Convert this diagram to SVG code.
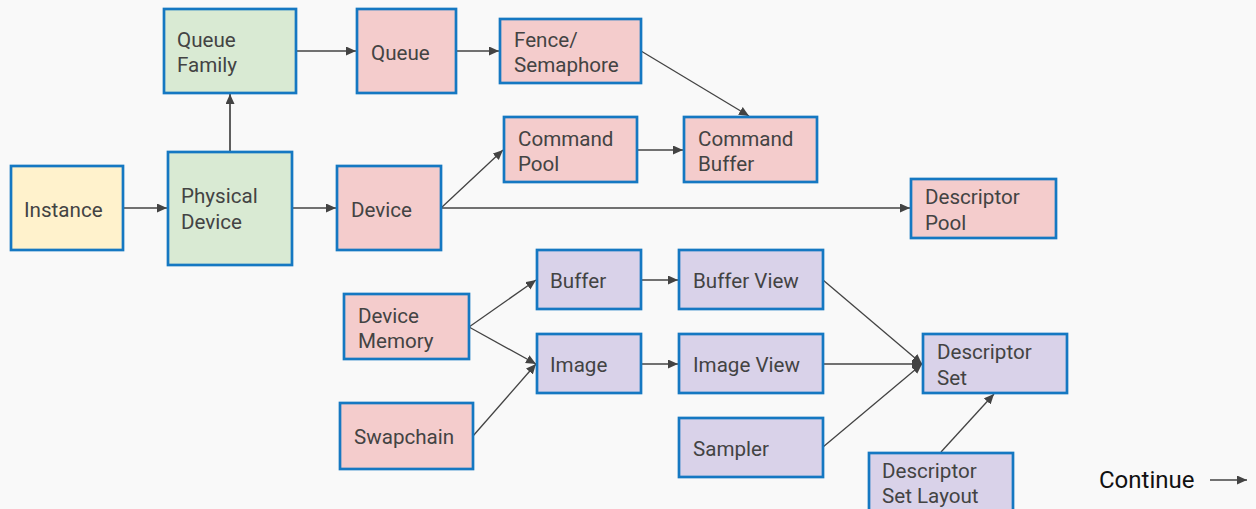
<svg xmlns="http://www.w3.org/2000/svg" width="1256" height="509" viewBox="0 0 1256 509">
  <style>
    .box { stroke: #1578c2; stroke-width: 2.7; }
    .y { fill: #fff2cc; }
    .g { fill: #d9ead3; }
    .r { fill: #f4cccc; }
    .p { fill: #d9d2e9; }
    .lbl { font-family: Roboto, "Liberation Sans", sans-serif; font-size: 20.6px; fill: #434343; }
    .edge { fill: none; stroke: #434343; stroke-width: 1.3; marker-end: url(#arrow); }
  </style>
  <defs>
    <marker id="arrow" markerUnits="userSpaceOnUse" markerWidth="11" markerHeight="10" refX="10" refY="4.5" orient="auto">
      <path d="M0,0 L10,4.5 L0,9 z" fill="#434343"/>
    </marker>
  </defs>
  <rect width="1256" height="509" fill="#f9f9f9"/>

  <g id="connectors">
    <line class="edge" x1="123" y1="208" x2="167" y2="208"/>
    <line class="edge" x1="292" y1="208" x2="336" y2="208"/>
    <line class="edge" x1="230" y1="152" x2="230" y2="94" style="stroke:#5f5f5f;stroke-width:2"/>
    <line class="edge" x1="296" y1="51" x2="356" y2="51"/>
    <line class="edge" x1="456" y1="51" x2="499" y2="51"/>
    <line class="edge" x1="641" y1="51" x2="749" y2="116"/>
    <line class="edge" x1="637" y1="150" x2="683" y2="150"/>
    <line class="edge" x1="441" y1="208" x2="503" y2="150"/>
    <line class="edge" x1="441" y1="208" x2="910" y2="208"/>
    <line class="edge" x1="469" y1="327" x2="536" y2="280"/>
    <line class="edge" x1="469" y1="327" x2="536" y2="364"/>
    <line class="edge" x1="473" y1="436" x2="536" y2="364"/>
    <line class="edge" x1="641" y1="280" x2="678" y2="280"/>
    <line class="edge" x1="641" y1="364" x2="678" y2="364"/>
    <line class="edge" x1="823" y1="280" x2="922" y2="364"/>
    <line class="edge" x1="823" y1="364" x2="922" y2="364"/>
    <line class="edge" x1="823" y1="447" x2="922" y2="364"/>
    <line class="edge" x1="941" y1="452" x2="994" y2="394"/>
  </g>

  <g id="instance">
    <rect class="box y" x="11" y="166" width="112" height="84"/>
    <text class="lbl" x="24" y="217">Instance</text>
  </g>
  <g id="physical-device">
    <rect class="box g" x="168" y="152" width="124" height="113"/>
    <text class="lbl" x="181" y="203">Physical</text>
    <text class="lbl" x="181" y="229">Device</text>
  </g>
  <g id="queue-family">
    <rect class="box g" x="164" y="9" width="132" height="84"/>
    <text class="lbl" x="177" y="47">Queue</text>
    <text class="lbl" x="177" y="72">Family</text>
  </g>
  <g id="queue">
    <rect class="box r" x="357" y="9" width="99" height="84"/>
    <text class="lbl" x="371" y="60">Queue</text>
  </g>
  <g id="fence-semaphore">
    <rect class="box r" x="500" y="19" width="141" height="64"/>
    <text class="lbl" x="514" y="47">Fence/</text>
    <text class="lbl" x="514" y="72">Semaphore</text>
  </g>
  <g id="device">
    <rect class="box r" x="337" y="166" width="104" height="84"/>
    <text class="lbl" x="351" y="217">Device</text>
  </g>
  <g id="command-pool">
    <rect class="box r" x="504" y="117" width="133" height="65"/>
    <text class="lbl" x="518" y="146">Command</text>
    <text class="lbl" x="518" y="171">Pool</text>
  </g>
  <g id="command-buffer">
    <rect class="box r" x="684" y="117" width="133" height="65"/>
    <text class="lbl" x="698" y="146">Command</text>
    <text class="lbl" x="698" y="171">Buffer</text>
  </g>
  <g id="descriptor-pool">
    <rect class="box r" x="911" y="179" width="145" height="59"/>
    <text class="lbl" x="925" y="204">Descriptor</text>
    <text class="lbl" x="925" y="230">Pool</text>
  </g>
  <g id="device-memory">
    <rect class="box r" x="344" y="294" width="125" height="65"/>
    <text class="lbl" x="358" y="323">Device</text>
    <text class="lbl" x="358" y="348">Memory</text>
  </g>
  <g id="swapchain">
    <rect class="box r" x="340" y="403" width="133" height="66"/>
    <text class="lbl" x="354" y="444">Swapchain</text>
  </g>
  <g id="buffer">
    <rect class="box p" x="537" y="250" width="104" height="59"/>
    <text class="lbl" x="550" y="288">Buffer</text>
  </g>
  <g id="image">
    <rect class="box p" x="537" y="334" width="104" height="59"/>
    <text class="lbl" x="550" y="372">Image</text>
  </g>
  <g id="buffer-view">
    <rect class="box p" x="679" y="250" width="144" height="59"/>
    <text class="lbl" x="693" y="288">Buffer View</text>
  </g>
  <g id="image-view">
    <rect class="box p" x="679" y="334" width="144" height="59"/>
    <text class="lbl" x="693" y="372">Image View</text>
  </g>
  <g id="sampler">
    <rect class="box p" x="679" y="418" width="144" height="59"/>
    <text class="lbl" x="693" y="456">Sampler</text>
  </g>
  <g id="descriptor-set">
    <rect class="box p" x="923" y="334" width="144" height="59"/>
    <text class="lbl" x="937" y="359">Descriptor</text>
    <text class="lbl" x="937" y="385">Set</text>
  </g>
  <g id="descriptor-set-layout">
    <rect class="box p" x="869" y="453" width="144" height="70"/>
    <text class="lbl" x="882" y="478">Descriptor</text>
    <text class="lbl" x="882" y="503">Set Layout</text>
  </g>

  <g id="continue">
    <text x="1099" y="488" font-family="Roboto, 'Liberation Sans', sans-serif" font-size="24" fill="#111">Continue</text>
    <line class="edge" x1="1210" y1="480" x2="1247" y2="480"/>
  </g>
</svg>
